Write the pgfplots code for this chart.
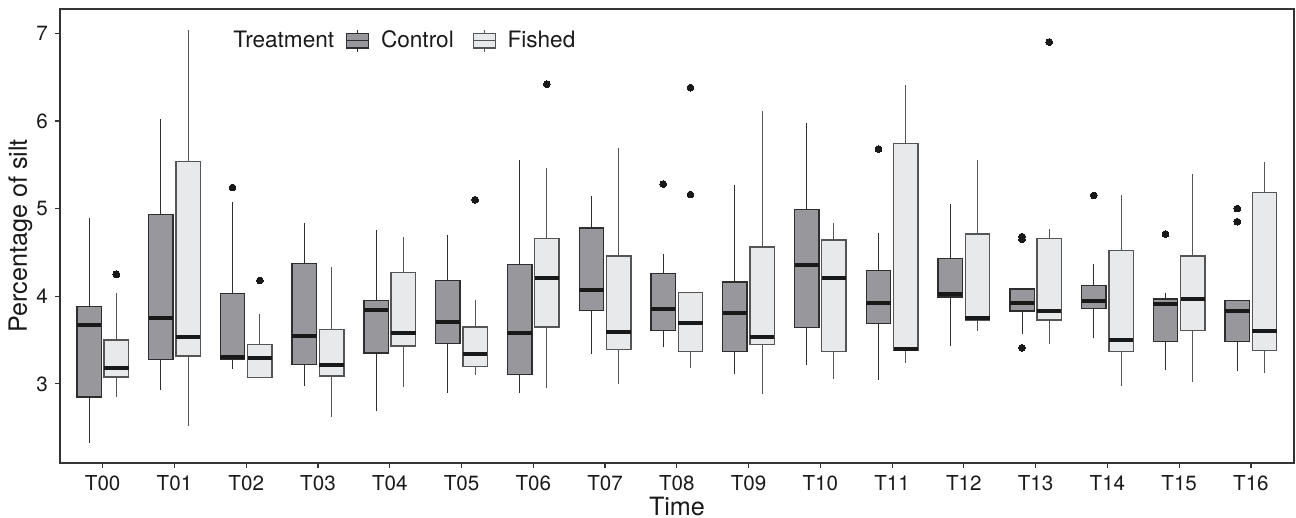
\documentclass[border=0pt]{standalone}
\usepackage{pgfplots}
\pgfplotsset{compat=1.18}
\usepgfplotslibrary{statistics}
\usepackage{fontspec}
\setmainfont{TeX Gyre Heros}

\definecolor{ctrlfill}{HTML}{98979C}
\definecolor{fishfill}{HTML}{E8E9EB}
\definecolor{ctrldraw}{HTML}{2E2E2E}
\definecolor{fishdraw}{HTML}{555555}
\definecolor{txt}{HTML}{1A1A1A}

\pgfplotsset{
  ctrlst/.style={draw=ctrldraw, fill=ctrlfill, line width=0.7pt,
    boxplot/draw direction=y,
    boxplot/box extend=0.34, boxplot/whisker extend=0,
    boxplot/every median/.style={line width=2pt, draw=black!90},
    boxplot/every whisker/.style={line width=0.5pt, draw=ctrldraw},
    mark=*, mark size=1.7pt, mark options={draw=black!90, fill=black!90, line width=0pt}},
  fishst/.style={draw=fishdraw, fill=fishfill, line width=0.7pt,
    boxplot/draw direction=y,
    boxplot/box extend=0.34, boxplot/whisker extend=0,
    boxplot/every median/.style={line width=2pt, draw=black!90},
    boxplot/every whisker/.style={line width=0.5pt, draw=fishdraw},
    mark=*, mark size=1.7pt, mark options={draw=black!90, fill=black!90, line width=0pt}},
}

% position, lower whisker, lower quartile, median, upper quartile, upper whisker, outliers
\newcommand{\ctrl}[7]{\addplot[ctrlst, forget plot, boxplot prepared={draw position=#1-0.19,
  lower whisker=#2, lower quartile=#3, median=#4, upper quartile=#5, upper whisker=#6}] coordinates {#7};}
\newcommand{\fish}[7]{\addplot[fishst, forget plot, boxplot prepared={draw position=#1+0.19,
  lower whisker=#2, lower quartile=#3, median=#4, upper quartile=#5, upper whisker=#6}] coordinates {#7};}

\begin{document}
\begin{tikzpicture}
\begin{axis}[
  scale only axis, width=617pt, height=227pt,
  xmin=-0.595, xmax=16.6, ymin=2.097, ymax=7.277,
  xtick={0,...,16},
  xticklabels={T00,T01,T02,T03,T04,T05,T06,T07,T08,T09,T10,T11,T12,T13,T14,T15,T16},
  ytick={3,4,5,6,7},
  tick align=outside, xtick pos=left, ytick pos=left,
  major tick length=2.5pt,
  axis line style={draw=black!80, line width=0.6pt},
  every tick/.style={draw=black!80, line width=0.6pt},
  ticklabel style={font=\fontsize{10.3}{12}\selectfont, text=txt},
  /pgf/number format/assume math mode=true,
  xlabel={Time}, ylabel={Percentage of silt},
  label style={font=\fontsize{12.6}{15}\selectfont, text=txt},
  xlabel style={at={(axis description cs:0.5,0)}, anchor=north, yshift=-16.7pt, inner sep=0pt},
  ylabel style={at={(axis description cs:-0.032,0.5)}, anchor=center, inner sep=0pt},
  legend style={at={(axis description cs:0.126,0.93)}, anchor=west, draw=none, fill=none,
    font=\fontsize{11.3}{13}\selectfont, text=txt,
    nodes={inner sep=0pt},
    /tikz/every odd column/.append style={column sep=5.8pt},
    /tikz/column 1/.style={column sep=0pt},
    /tikz/column 2/.style={column sep=6pt},
    /tikz/column 4/.style={column sep=9.5pt}},
  legend columns=3,
]
\coordinate (SW) at (rel axis cs:0,0);
\coordinate (NE) at (rel axis cs:1,1);

\addlegendimage{empty legend}
\addlegendentry{Treatment}
\addlegendimage{legend image code/.code={
  \draw[draw=ctrldraw, fill=ctrlfill, line width=0.6pt] (0pt,-3.6pt) rectangle (11pt,3.6pt);
  \draw[draw=ctrldraw, line width=0.6pt] (0pt,0pt) -- (11pt,0pt);
  \draw[draw=ctrldraw, line width=0.5pt] (5.5pt,3.6pt) -- (5.5pt,5.4pt) (5.5pt,-3.6pt) -- (5.5pt,-5.4pt);}}
\addlegendentry{Control}
\addlegendimage{legend image code/.code={
  \draw[draw=fishdraw, fill=fishfill, line width=0.6pt] (0pt,-3.6pt) rectangle (11pt,3.6pt);
  \draw[draw=fishdraw, line width=0.6pt] (0pt,0pt) -- (11pt,0pt);
  \draw[draw=fishdraw, line width=0.5pt] (5.5pt,3.6pt) -- (5.5pt,5.4pt) (5.5pt,-3.6pt) -- (5.5pt,-5.4pt);}}
\addlegendentry{Fished}

\ctrl{0}{2.33}{2.85}{3.67}{3.88}{4.89}{}
\fish{0}{2.85}{3.08}{3.18}{3.50}{4.04}{(0,4.25)}
\ctrl{1}{2.93}{3.28}{3.75}{4.93}{6.02}{}
\fish{1}{2.52}{3.32}{3.54}{5.54}{7.04}{}
\ctrl{2}{3.17}{3.28}{3.31}{4.03}{5.08}{(0,5.24)}
\fish{2}{3.07}{3.07}{3.29}{3.45}{3.80}{(0,4.18)}
\ctrl{3}{2.98}{3.22}{3.55}{4.37}{4.84}{}
\fish{3}{2.62}{3.09}{3.22}{3.62}{4.33}{}
\ctrl{4}{2.69}{3.35}{3.84}{3.95}{4.76}{}
\fish{4}{2.96}{3.43}{3.58}{4.27}{4.67}{}
\ctrl{5}{2.90}{3.46}{3.71}{4.18}{4.70}{}
\fish{5}{3.10}{3.20}{3.34}{3.65}{3.96}{(0,5.10)}
\ctrl{6}{2.89}{3.11}{3.58}{4.36}{5.55}{}
\fish{6}{2.95}{3.65}{4.21}{4.66}{5.46}{(0,6.42)}
\ctrl{7}{3.34}{3.84}{4.07}{4.78}{5.14}{}
\fish{7}{3.00}{3.39}{3.59}{4.46}{5.69}{}
\ctrl{8}{3.42}{3.61}{3.85}{4.26}{4.48}{(0,5.28)}
\fish{8}{3.18}{3.37}{3.69}{4.04}{4.04}{(0,5.16) (0,6.38)}
\ctrl{9}{3.11}{3.37}{3.81}{4.16}{5.27}{}
\fish{9}{2.88}{3.45}{3.54}{4.56}{6.11}{}
\ctrl{10}{3.21}{3.64}{4.36}{4.99}{5.98}{}
\fish{10}{3.06}{3.37}{4.21}{4.64}{4.84}{}
\ctrl{11}{3.04}{3.69}{3.92}{4.29}{4.72}{(0,5.68)}
\fish{11}{3.24}{3.38}{3.40}{5.74}{6.41}{}
\ctrl{12}{3.43}{3.99}{4.03}{4.43}{5.05}{}
\fish{12}{3.60}{3.72}{3.75}{4.71}{5.55}{}
\ctrl{13}{3.57}{3.83}{3.92}{4.08}{4.08}{(0,3.41) (0,4.65) (0,4.68)}
\fish{13}{3.45}{3.73}{3.83}{4.66}{4.77}{(0,6.90)}
\ctrl{14}{3.52}{3.86}{3.95}{4.12}{4.37}{(0,5.15)}
\fish{14}{2.98}{3.37}{3.50}{4.52}{5.15}{}
\ctrl{15}{3.16}{3.48}{3.91}{3.97}{4.04}{(0,4.71)}
\fish{15}{3.02}{3.61}{3.97}{4.46}{5.40}{}
\ctrl{16}{3.15}{3.48}{3.83}{3.95}{3.95}{(0,4.85) (0,5.00)}
\fish{16}{3.12}{3.38}{3.60}{5.18}{5.53}{}
\end{axis}
\pgfresetboundingbox
\path ([shift={(-30pt,-27.35pt)}]SW) rectangle ([shift={(1pt,4.5pt)}]NE);
\end{tikzpicture}
\end{document}
